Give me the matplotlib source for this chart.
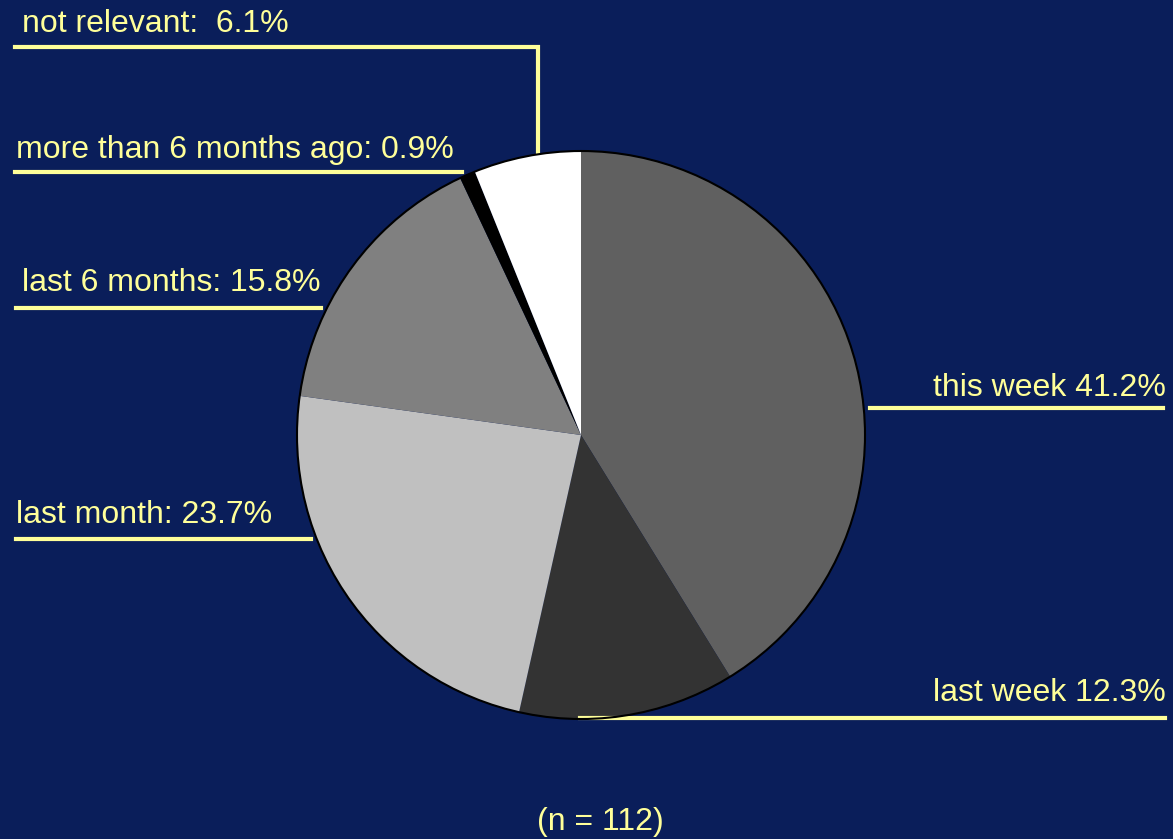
import matplotlib
matplotlib.use("Agg")
import matplotlib.pyplot as plt
from matplotlib.patches import Circle

# data
labels = ["this week", "last week", "last month", "last 6 months",
          "more than 6 months ago", "not relevant"]
shares = [41.2, 12.3, 23.7, 15.8, 0.9, 6.1]
slice_colors = ["#606060", "#333333", "#c0c0c0", "#808080", "#000000", "#ffffff"]
label_texts = ["this week 41.2%", "last week 12.3%", "last month: 23.7%",
               "last 6 months: 15.8%", "more than 6 months ago: 0.9%",
               "not relevant:  6.1%"]
n_total = 112

BG = "#0a1e5a"
YEL = "#ffff99"
W, H = 1173, 839

plt.rcParams['font.family'] = ['Liberation Sans', 'DejaVu Sans']

fig = plt.figure(figsize=(W / 100, H / 100), dpi=100, facecolor=BG)
ax = fig.add_axes([0, 0, 1, 1])
ax.set_facecolor(BG)

cx, cy, r = 581, H - 435, 284
ax.pie(shares, colors=slice_colors, startangle=90, counterclock=False,
       center=(cx, cy), radius=r, wedgeprops=dict(linewidth=0),
       frame=True)
ax.set_xlim(0, W)
ax.set_ylim(0, H)
ax.set_aspect("equal")
ax.axis("off")
ax.add_patch(Circle((cx, cy), r, fill=False, edgecolor="black", lw=1.5, zorder=3))


def yy(v):
    return H - v


lw = 3
# leader lines (layout, pixel positions of the reference)
ax.plot([15, 538, 538], [yy(47), yy(47), yy(152)], color=YEL, lw=lw, solid_joinstyle="miter")
ax.plot([15, 462], [yy(172), yy(172)], color=YEL, lw=lw)
ax.plot([16, 321], [yy(308), yy(308)], color=YEL, lw=lw)
ax.plot([16, 311], [yy(539), yy(539)], color=YEL, lw=lw)
ax.plot([870, 1163], [yy(408), yy(408)], color=YEL, lw=lw)
ax.plot([580, 1165], [yy(718), yy(718)], color=YEL, lw=lw)

fs = 23
txt = dict(color=YEL, fontsize=fs, va="center")
ax.text(1166, yy(388), label_texts[0], ha="right", **txt)
ax.text(1166, yy(693), label_texts[1], ha="right", **txt)
ax.text(16, yy(515), label_texts[2], ha="left", **txt)
ax.text(22, yy(283), label_texts[3], ha="left", **txt)
ax.text(16, yy(150), label_texts[4], ha="left", **txt)
ax.text(22, yy(24), label_texts[5], ha="left", **txt)
ax.text(600, yy(822), f"(n = {n_total})", ha="center", **txt)

fig.savefig("out.png", dpi=100, facecolor=BG)
